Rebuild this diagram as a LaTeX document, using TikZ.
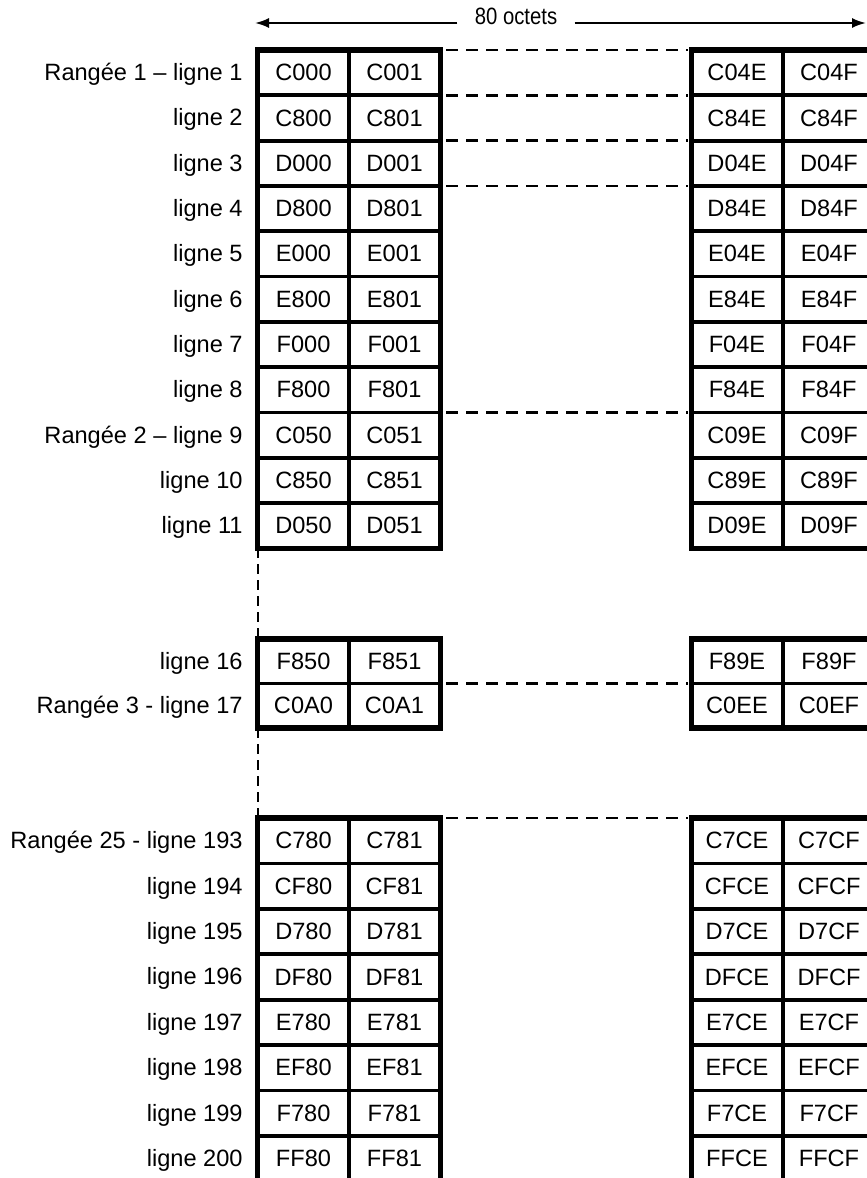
\documentclass[tikz,border=0pt]{standalone}
\usepackage{fontspec}
\setmainfont{Liberation Sans}
\usetikzlibrary{arrows.meta}
\begin{document}
\begin{tikzpicture}[x=0.5pt,y=-0.5pt,
  txt/.style={font=\fontsize{11.8}{13}\selectfont},
  cell/.style={txt,draw,line width=1.9pt,minimum width=45.8pt,inner sep=0pt,outer sep=0pt},
  rowlabel/.style={txt,anchor=base east,inner sep=0pt},
  outer/.style={line width=2.6pt},
  link/.style={line width=1.2pt,dash pattern=on 6pt off 4pt},
  vlink/.style={line width=1pt,dash pattern=on 5pt off 3pt},
  arr/.style={line width=1pt,-{Latex[length=7pt,width=5pt]}},
]
\useasboundingbox (0,0) rectangle (867,1178);
\clip (0,0) rectangle (867,1178);

% title arrow
\coordinate (aL) at (255,23);
\coordinate (aR) at (866,23);
\node[txt,inner xsep=8.5pt,inner ysep=1pt,anchor=base] (oct) at (516,25) {\scalebox{0.86}[1]{80 octets}};
\draw[arr] (oct.west |- aL) -- (aL);
\draw[arr] (oct.east |- aR) -- (aR);

% rows
\foreach \n/\y/\h/\lab/\a/\b/\c/\d in {
  1/72.65/22.65pt/Rangée 1 – ligne 1/C000/C001/C04E/C04F,
  2/117.95/22.65pt/ligne 2/C800/C801/C84E/C84F,
  3/163.25/22.65pt/ligne 3/D000/D001/D04E/D04F,
  4/208.55/22.65pt/ligne 4/D800/D801/D84E/D84F,
  5/253.85/22.65pt/ligne 5/E000/E001/E04E/E04F,
  6/299.15/22.65pt/ligne 6/E800/E801/E84E/E84F,
  7/344.45/22.65pt/ligne 7/F000/F001/F04E/F04F,
  8/389.75/22.65pt/ligne 8/F800/F801/F84E/F84F,
  9/435.05/22.65pt/Rangée 2 – ligne 9/C050/C051/C09E/C09F,
  10/480.35/22.65pt/ligne 10/C850/C851/C89E/C89F,
  11/525.65/22.65pt/ligne 11/D050/D051/D09E/D09F,
  16/661.25/22.25pt/ligne 16/F850/F851/F89E/F89F,
  17/705.75/22.25pt/Rangée 3 - ligne 17/C0A0/C0A1/C0EE/C0EF,
  193/840.7/22.7pt/Rangée 25 - ligne 193/C780/C781/C7CE/C7CF,
  194/886.1/22.7pt/ligne 194/CF80/CF81/CFCE/CFCF,
  195/931.5/22.7pt/ligne 195/D780/D781/D7CE/D7CF,
  196/976.9/22.7pt/ligne 196/DF80/DF81/DFCE/DFCF,
  197/1022.3/22.7pt/ligne 197/E780/E781/E7CE/E7CF,
  198/1067.7/22.7pt/ligne 198/EF80/EF81/EFCE/EFCF,
  199/1113.1/22.7pt/ligne 199/F780/F781/F7CE/F7CF,
  200/1158.5/22.7pt/ligne 200/FF80/FF81/FFCE/FFCF}
{
  \node[cell,minimum height=\h] (la\n) at (303.5,\y) {\a};
  \node[cell,minimum height=\h] (lb\n) at (394.5,\y) {\b};
  \node[cell,minimum height=\h] (ra\n) at (737,\y) {\c};
  \node[cell,minimum height=\h] (rb\n) at (829,\y) {\d};
  \node[rowlabel] (lab\n) at (243,\y+8) {\lab};
}

% outer frames
\draw[outer] (la1.north west) rectangle (lb11.south east);
\draw[outer] (ra1.north west) rectangle (rb11.south east);
\draw[outer] (la16.north west) rectangle (lb17.south east);
\draw[outer] (ra16.north west) rectangle (rb17.south east);
\draw[outer] (la193.north west) rectangle (lb200.south east);
\draw[outer] (ra193.north west) rectangle (rb200.south east);

% dashed links between the two halves
\foreach \n in {1,2,3,4,9,17,193}{
  \draw[link] ([xshift=3pt]lb\n.north east) -- ([xshift=-1.5pt]ra\n.north west);
}

% dashed vertical continuation
\draw[vlink] (la11.south west) -- (la16.north west);
\draw[vlink] (la17.south west) -- (la193.north west);
\end{tikzpicture}
\end{document}
